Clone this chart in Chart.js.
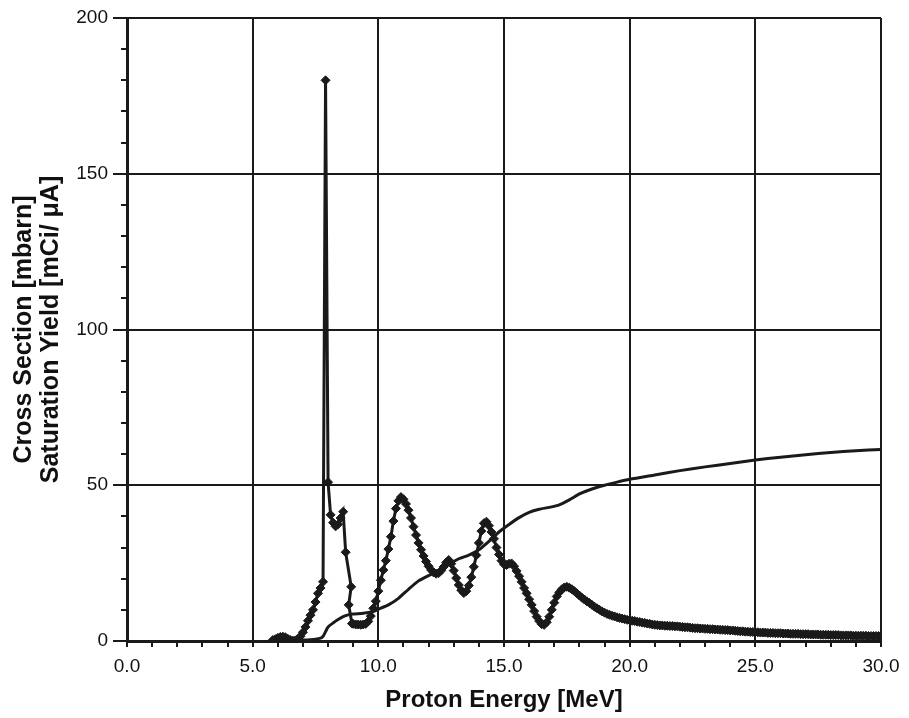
<!DOCTYPE html>
<html>
<head>
<meta charset="utf-8">
<title>Proton energy chart</title>
<script src="https://cdn.jsdelivr.net/npm/chart.js@4.4.1/dist/chart.umd.min.js"></script>
<style>
  html, body { margin: 0; padding: 0; background: #fff; }
  canvas { display: block; }
</style>
</head>
<body>
<canvas id="chart" width="909" height="718"></canvas>
<script>
// cross section (diamond markers)
const xsEnergy = [
  5.8, 5.9, 6.0, 6.1, 6.2, 6.3, 6.4, 6.5, 6.6, 6.7, 6.8, 6.9,
  7.0, 7.1, 7.2, 7.3, 7.4, 7.5, 7.6, 7.7, 7.8, 7.9,
  8.0, 8.1, 8.2, 8.3, 8.4, 8.5, 8.6, 8.7, 8.92, 8.82, 8.95,
  9.0, 9.1, 9.2, 9.3, 9.4, 9.5, 9.6, 9.7, 9.8, 9.9,
  10.0, 10.1, 10.2, 10.3, 10.4, 10.5, 10.6, 10.7, 10.8, 10.9,
  11.0, 11.1, 11.2, 11.3, 11.4, 11.5, 11.6, 11.7, 11.8, 11.9,
  12.0, 12.1, 12.2, 12.3, 12.4, 12.5, 12.6, 12.7, 12.8, 12.9,
  13.0, 13.1, 13.2, 13.3, 13.4, 13.5, 13.6, 13.7, 13.8, 13.9,
  14.0, 14.1, 14.2, 14.3, 14.4, 14.5, 14.6, 14.7, 14.8, 14.9,
  15.0, 15.1, 15.2, 15.3, 15.4, 15.5, 15.6, 15.7, 15.8, 15.9,
  16.0, 16.1, 16.2, 16.3, 16.4, 16.5, 16.6, 16.7, 16.8, 16.9,
  17.0, 17.1, 17.2, 17.3, 17.4, 17.5, 17.6, 17.7, 17.8, 17.9,
  18.0, 18.1, 18.2, 18.3, 18.4, 18.5, 18.6, 18.7, 18.8, 18.9,
  19.0, 19.1, 19.2, 19.3, 19.4, 19.5, 19.6, 19.7, 19.8, 19.9,
  20.0, 20.1, 20.2, 20.3, 20.4, 20.5, 20.6, 20.7, 20.8, 20.9,
  21.0, 21.1, 21.2, 21.3, 21.4, 21.5, 21.6, 21.7, 21.8, 21.9,
  22.0, 22.1, 22.2, 22.3, 22.4, 22.5, 22.6, 22.7, 22.8, 22.9,
  23.0, 23.1, 23.2, 23.3, 23.4, 23.5, 23.6, 23.7, 23.8, 23.9,
  24.0, 24.1, 24.2, 24.3, 24.4, 24.5, 24.6, 24.7, 24.8, 24.9,
  25.0, 25.1, 25.2, 25.3, 25.4, 25.5, 25.6, 25.7, 25.8, 25.9,
  26.0, 26.1, 26.2, 26.3, 26.4, 26.5, 26.6, 26.7, 26.8, 26.9,
  27.0, 27.1, 27.2, 27.3, 27.4, 27.5, 27.6, 27.7, 27.8, 27.9,
  28.0, 28.1, 28.2, 28.3, 28.4, 28.5, 28.6, 28.7, 28.8, 28.9,
  29.0, 29.1, 29.2, 29.3, 29.4, 29.5, 29.6, 29.7, 29.8, 29.9,
  30.0
];
const xsValue = [
  0.3, 0.6, 1.0, 1.3, 1.4, 1.2, 0.7, 0.3, 0.1, 0.2, 0.6, 1.5,
  2.8, 4.5, 6.5, 8.3, 10.0, 12.5, 15.3, 17.0, 19.0, 180,
  51, 40.5, 38, 36.8, 37.5, 39.5, 41.5, 28.5, 17.4, 11.6, 5.6,
  5.5, 5.3, 5.3, 5.2, 5.3, 5.5, 6.3, 8.0, 10.5, 12.8,
  16.0, 19.5, 22.8, 25.8, 29.5, 33.5, 38.5, 42.5, 45.0, 46.2,
  45.5, 44.0, 42.0, 39.5, 36.7, 34.0, 31.5, 29.3, 27.3, 25.5,
  24.0, 22.8, 22.0, 21.6, 21.8, 22.6, 23.8, 25.2, 26.0, 24.8,
  22.6, 20.2, 18.0, 16.3, 15.4, 16.0, 17.8, 20.5, 23.8, 27.5,
  31.5, 35.3, 37.8, 38.3, 37.0, 35.0, 32.8, 30.0, 27.8, 25.8,
  24.6, 24.4, 24.8, 24.9, 24.0, 22.5, 20.8, 19.0, 17.0, 15.3,
  13.4, 11.6, 9.6, 7.8, 6.4, 5.4, 5.2, 6.0, 7.8, 10.0,
  12.3, 14.3, 15.6, 16.6, 17.2, 17.4, 17.1, 16.6, 16.0, 15.3,
  14.6, 13.9, 13.3, 12.7, 12.2, 11.6, 11.0, 10.5, 10.0, 9.5,
  9.1, 8.7, 8.4, 8.1, 7.9, 7.6, 7.4, 7.2, 7.0, 6.8,
  6.7, 6.5, 6.4, 6.2, 6.1, 5.9, 5.8, 5.6, 5.5, 5.3,
  5.2, 5.1, 5.0, 5.0, 4.9, 4.9, 4.8, 4.8, 4.7, 4.7,
  4.6, 4.5, 4.4, 4.4, 4.3, 4.2, 4.1, 4.1, 4.0, 4.0,
  3.9, 3.9, 3.8, 3.8, 3.7, 3.7, 3.6, 3.6, 3.5, 3.5,
  3.4, 3.4, 3.3, 3.2, 3.1, 3.1, 3.0, 3.0, 2.9, 2.9,
  2.8, 2.8, 2.7, 2.7, 2.7, 2.6, 2.6, 2.6, 2.5, 2.5,
  2.5, 2.4, 2.4, 2.4, 2.3, 2.3, 2.3, 2.3, 2.2, 2.2,
  2.2, 2.2, 2.1, 2.1, 2.1, 2.1, 2.0, 2.0, 2.0, 2.0,
  1.9, 1.9, 1.9, 1.9, 1.8, 1.8, 1.8, 1.8, 1.8, 1.7,
  1.7, 1.7, 1.7, 1.7, 1.7, 1.6, 1.6, 1.6, 1.6, 1.6,
  1.6
];

// saturation yield (plain line)
const yieldEnergy = [5.8, 6.5, 7.0, 7.5, 7.7, 7.8, 7.9, 8.0, 8.2, 8.4, 8.6, 8.8, 9.0, 9.4, 9.8,
  10.0, 10.4, 10.8, 11.2, 11.6, 12.0, 12.4, 12.8, 13.2, 13.6, 14.0, 14.4, 14.8, 15.2, 15.6,
  16.0, 16.4, 16.8, 17.2, 17.6, 18.0, 18.5, 19.0, 19.5, 20.0, 21.0, 22.0, 23.0, 24.0, 25.0,
  26.0, 27.0, 28.0, 29.0, 30.0];
const yieldValue = [0, 0.1, 0.3, 0.6, 0.9, 1.5, 3.0, 4.5, 5.8, 6.9, 7.8, 8.4, 8.7, 8.9, 9.5,
  10.2, 11.6, 13.7, 16.6, 19.3, 21.0, 22.5, 24.6, 26.4, 27.6, 29.3, 32.0, 35.0, 37.4, 39.6,
  41.3, 42.3, 42.9, 43.7, 45.3, 47.2, 48.8, 50.0, 51.0, 51.9, 53.3, 54.7, 55.9, 57.0, 58.1,
  59.0, 59.8, 60.5, 61.1, 61.5];

const xTicks = [0, 5, 10, 15, 20, 25, 30];
const yTicks = [0, 50, 100, 150, 200];

const ink = '#1a1a1a';
const fontFamily = "'Liberation Sans', Arial, Helvetica, sans-serif";

// small ticks between the labelled ones
const minorTicks = {
  id: 'minorTicks',
  afterDraw(chart) {
    const { ctx, chartArea } = chart;
    const x = chart.scales.x;
    const y = chart.scales.y;
    ctx.save();
    ctx.strokeStyle = ink;
    ctx.lineWidth = 2;
    ctx.beginPath();
    for (let v = 0; v <= 200; v += 10) {
      if (v % 50 === 0) continue;
      const py = Math.round(y.getPixelForValue(v));
      ctx.moveTo(chartArea.left - 6, py);
      ctx.lineTo(chartArea.left, py);
    }
    for (let e = 0; e <= 30; e += 1) {
      if (e % 5 === 0) continue;
      const px = Math.round(x.getPixelForValue(e));
      ctx.moveTo(px, chartArea.bottom);
      ctx.lineTo(px, chartArea.bottom + 6);
    }
    ctx.stroke();
    ctx.restore();
  }
};

const ctx = document.getElementById('chart').getContext('2d');

const chart = new Chart(ctx, {
  type: 'scatter',
  data: {
    datasets: [{
      label: 'Cross Section',
      data: xsEnergy.map((e, i) => ({ x: e, y: xsValue[i] })),
      showLine: true,
      borderColor: ink,
      backgroundColor: ink,
      borderWidth: 3,
      pointStyle: 'rectRot',
      pointRadius: 4.5,
      pointBorderWidth: 1,
      tension: 0
    }, {
      label: 'Saturation Yield',
      data: yieldEnergy.map((e, i) => ({ x: e, y: yieldValue[i] })),
      showLine: true,
      borderColor: ink,
      borderWidth: 3,
      pointRadius: 0,
      tension: 0.2
    }]
  },
  options: {
    responsive: false,
    animation: false,
    devicePixelRatio: 1,
    layout: { padding: { top: 18, right: 28, left: 0, bottom: 0 } },
    plugins: {
      legend: { display: false },
      tooltip: { enabled: false }
    },
    scales: {
      x: {
        type: 'linear',
        min: 0,
        max: 30,
        afterBuildTicks: s => { s.ticks = xTicks.map(v => ({ value: v })); },
        afterFit: s => { s.height = 77; },
        ticks: {
          callback: v => v.toFixed(1),
          color: '#111',
          font: { family: fontFamily, size: 19 },
          padding: 8,
          maxRotation: 0,
          autoSkip: false
        },
        grid: { color: ink, lineWidth: 2, tickLength: 6 },
        border: { color: ink, width: 3 },
        title: {
          display: true,
          text: 'Proton Energy [MeV]',
          color: '#111',
          font: { family: fontFamily, size: 24, weight: 'bold' },
          padding: { top: 0, bottom: 3 }
        }
      },
      y: {
        min: 0,
        max: 200,
        afterBuildTicks: s => { s.ticks = yTicks.map(v => ({ value: v })); },
        afterFit: s => { s.width = 127; },
        ticks: {
          color: '#111',
          font: { family: fontFamily, size: 19 },
          padding: 5
        },
        grid: { color: ink, lineWidth: 2, tickLength: 14 },
        border: { color: ink, width: 3 },
        title: {
          display: true,
          text: ['Cross Section [mbarn]', 'Saturation Yield [mCi/ \u03bcA]'],
          color: '#111',
          font: { family: fontFamily, size: 25, weight: 'bold', lineHeight: 1.1 },
          padding: { top: 10, bottom: 0 }
        }
      }
    }
  },
  plugins: [minorTicks]
});
</script>
</body>
</html>
